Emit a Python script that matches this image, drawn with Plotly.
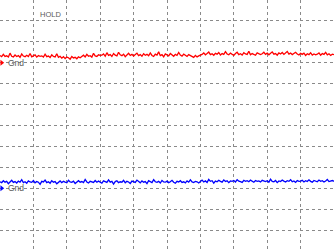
import plotly.graph_objects as go

# time axis in divisions (10 horizontal divisions)
time_div = [i * 0.05 for i in range(201)]

# channel 1 (red), vertical position in divisions (ground reference at 9)
ch1_gnd = 9
ch1 = [9.35, 9.29, 9.40, 9.30, 9.33, 9.27, 9.46, 9.31, 9.28, 9.37, 9.30, 9.34, 9.26, 9.42, 9.32,
       9.29, 9.36, 9.30, 9.44, 9.28, 9.33, 9.38, 9.27, 9.35, 9.31,
       9.33, 9.27, 9.41, 9.29, 9.32, 9.25, 9.38, 9.30, 9.28, 9.43, 9.26, 9.31,
       9.22, 9.29, 9.20, 9.27, 9.24, 9.17, 9.30, 9.23, 9.26, 9.19, 9.28, 9.24,
       9.30, 9.36, 9.28, 9.40, 9.31, 9.34, 9.27, 9.45, 9.33, 9.30, 9.38, 9.35,
       9.36, 9.42, 9.31, 9.48, 9.35, 9.39, 9.30, 9.44, 9.36, 9.33,
       9.50, 9.38, 9.34, 9.41, 9.29, 9.37, 9.45, 9.35, 9.40, 9.32,
       9.38, 9.46, 9.34, 9.39, 9.31, 9.43, 9.36, 9.40, 9.33, 9.47,
       9.35, 9.30, 9.41, 9.37, 9.52, 9.34, 9.39, 9.28, 9.42, 9.36,
       9.33, 9.44, 9.38, 9.31, 9.40, 9.35, 9.49, 9.37, 9.32, 9.41,
       9.36, 9.30, 9.39, 9.34,
       9.30, 9.26, 9.35, 9.28, 9.33, 9.36,
       9.40, 9.47, 9.38, 9.44, 9.51, 9.39, 9.43, 9.36, 9.45, 9.41,
       9.49, 9.37, 9.44, 9.40, 9.53, 9.42, 9.38, 9.46, 9.41, 9.35,
       9.44, 9.50, 9.39, 9.43, 9.37, 9.48, 9.42, 9.40, 9.55, 9.38,
       9.44, 9.41, 9.36, 9.47, 9.43, 9.39,
       9.43, 9.50, 9.40, 9.46, 9.38, 9.45, 9.52, 9.41, 9.44, 9.36,
       9.47, 9.42, 9.49, 9.40, 9.45, 9.54, 9.41, 9.46, 9.39, 9.44,
       9.50, 9.42, 9.37, 9.45,
       9.40, 9.46, 9.35, 9.43, 9.39, 9.48, 9.37, 9.42, 9.38, 9.41,
       9.47, 9.36, 9.44, 9.40, 9.50, 9.38, 9.43, 9.35, 9.41, 9.39]

# channel 2 (blue), ground reference at 3
ch2_gnd = 3
ch2 = [3.31, 3.27, 3.36, 3.29, 3.33, 3.22, 3.30, 3.38, 3.28, 3.32, 3.25, 3.34, 3.29, 3.41, 3.27, 3.31, 3.24, 3.35, 3.30, 3.28,
       3.37, 3.26, 3.32, 3.29, 3.19, 3.33, 3.30, 3.39, 3.27, 3.31, 3.24, 3.36, 3.29, 3.32, 3.21, 3.30, 3.35, 3.27, 3.33, 3.29,
       3.26, 3.38, 3.30, 3.28, 3.34, 3.23, 3.31, 3.36, 3.29, 3.32, 3.27, 3.42, 3.30, 3.25, 3.33, 3.31, 3.28, 3.37, 3.29, 3.34,
       3.30, 3.24, 3.35, 3.31, 3.28, 3.40, 3.29, 3.33, 3.20, 3.32, 3.36, 3.27, 3.31, 3.29, 3.38, 3.26, 3.33, 3.30, 3.23, 3.34,
       3.31, 3.28, 3.39, 3.30, 3.26, 3.35, 3.29, 3.32, 3.22, 3.36, 3.30, 3.27, 3.41, 3.31, 3.28, 3.33, 3.25, 3.37, 3.30, 3.29,
       3.34, 3.27, 3.31, 3.38, 3.29, 3.24, 3.33, 3.30, 3.36, 3.28, 3.31, 3.26, 3.35, 3.29, 3.40, 3.30, 3.27, 3.33, 3.31, 3.25,
       3.32, 3.39, 3.30, 3.35, 3.28, 3.42, 3.33, 3.36, 3.24, 3.34, 3.31, 3.38, 3.33, 3.29, 3.40, 3.32, 3.36, 3.27, 3.35, 3.33,
       3.37, 3.30, 3.41, 3.34, 3.32, 3.28, 3.38, 3.33, 3.36, 3.31, 3.39, 3.34, 3.29, 3.37, 3.33, 3.35, 3.30, 3.38, 3.34, 3.32,
       3.36, 3.29, 3.43, 3.33, 3.31, 3.37, 3.27, 3.35, 3.32, 3.39, 3.34, 3.30, 3.36, 3.33, 3.41, 3.31, 3.35, 3.28, 3.37, 3.33,
       3.34, 3.38, 3.30, 3.36, 3.32, 3.40, 3.33, 3.29, 3.37, 3.34, 3.31, 3.39, 3.33, 3.36, 3.30, 3.35, 3.42, 3.32, 3.34, 3.37,
       3.33]

x_grid = [1, 2, 3, 4, 5, 6, 7, 8, 9]
y_grid = [1, 2, 3, 4, 5, 6, 7, 8, 9, 10, 11]

fig = go.Figure()
fig.add_trace(go.Scatter(x=time_div, y=ch1, mode="lines",
                         line=dict(color="#ff0000", width=1.3), hoverinfo="skip"))
fig.add_trace(go.Scatter(x=time_div, y=ch2, mode="lines",
                         line=dict(color="#0000ff", width=1.3), hoverinfo="skip"))
# ground markers
fig.add_trace(go.Scatter(x=[0.05], y=[ch1_gnd], mode="markers", cliponaxis=False,
                         marker=dict(symbol="triangle-right", size=5, color="#ff0000"),
                         hoverinfo="skip"))
fig.add_trace(go.Scatter(x=[0.05], y=[ch2_gnd], mode="markers", cliponaxis=False,
                         marker=dict(symbol="triangle-right", size=5, color="#0000ff"),
                         hoverinfo="skip"))

for g in (ch1_gnd, ch2_gnd):
    fig.add_annotation(x=0.19, y=g, text="Gnd", showarrow=False, xanchor="left",
                       yanchor="middle", font=dict(family="Liberation Sans", size=8.5, color="#5a5a5a"))
fig.add_annotation(x=1.51, y=11.33, text="HOLD", showarrow=False, xanchor="center",
                   yanchor="middle", font=dict(family="Liberation Sans", size=7.5, color="#5a5a5a"))

fig.update_layout(
    width=334, height=251,
    margin=dict(l=0, r=0, t=0, b=0),
    paper_bgcolor="white", plot_bgcolor="white",
    showlegend=False,
    xaxis=dict(range=[0, 10], tickvals=x_grid, showticklabels=False, showgrid=True,
               gridcolor="#8a8a8a", griddash="3px,3px", gridwidth=1,
               zeroline=False, showline=False, fixedrange=True),
    yaxis=dict(range=[0, 12], tickvals=y_grid, showticklabels=False, showgrid=True,
               gridcolor="#8a8a8a", griddash="3px,3px", gridwidth=1,
               zeroline=False, showline=False, fixedrange=True),
)

fig.write_html("out.html", config={"displayModeBar": False})
